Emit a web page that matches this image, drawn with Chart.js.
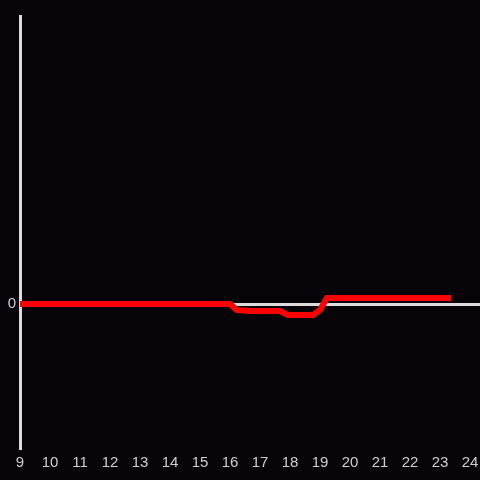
<!DOCTYPE html>
<html>
<head>
<meta charset="utf-8">
<script src="https://cdn.jsdelivr.net/npm/chart.js@4"></script>
<style>
  html, body { margin: 0; padding: 0; background: #060409; }
  #wrap { width: 480px; height: 480px; }
</style>
</head>
<body>
<div id="wrap"><canvas id="chart"></canvas></div>
<script>
// hours of the day and the plotted level
var hours  = [9, 16, 16.23, 16.67, 17.67, 17.93, 18.77, 19.0, 19.23, 23.37];
var values = [0, 0, -0.042, -0.049, -0.049, -0.076, -0.076, -0.042, 0.042, 0.042];
var xTicks = [9, 10, 11, 12, 13, 14, 15, 16, 17, 18, 19, 20, 21, 22, 23, 24];
var yTicks = [0];

var points = hours.map(function (h, i) { return { x: h, y: values[i] }; });

var ctx = document.getElementById('chart').getContext('2d');
new Chart(ctx, {
    type: 'line',
    data: {
        datasets: [{
            data: points,
            borderColor: '#ff0000',
            borderWidth: 6,
            pointRadius: 0,
            tension: 0,
            fill: false
        }]
    },
    options: {
        responsive: true,
        maintainAspectRatio: false,
        animation: false,
        layout: { padding: { top: 16, right: 0, left: 0, bottom: 0 } },
        plugins: { legend: { display: false }, tooltip: { enabled: false } },
        scales: {
            x: {
                type: 'linear',
                min: 9,
                max: 24.333,
                afterBuildTicks: function (s) {
                    s.ticks = xTicks.map(function (v) { return { value: v }; });
                },
                afterFit: function (s) {
                    s.height = 32;
                    s.paddingLeft = 0;
                    s.paddingRight = 0;
                },
                grid: { display: false, drawTicks: false },
                border: { display: false },
                ticks: {
                    color: '#cfcfcf',
                    padding: 6,
                    maxRotation: 0,
                    autoSkip: false,
                    font: { family: 'Liberation Sans', size: 15 }
                }
            },
            y: {
                min: -1,
                max: 2,
                afterBuildTicks: function (s) {
                    s.ticks = yTicks.map(function (v) { return { value: v }; });
                },
                afterFit: function (s) {
                    s.width = 20;
                    s.paddingTop = 0;
                    s.paddingBottom = 0;
                },
                grid: {
                    drawTicks: false,
                    lineWidth: 3,
                    color: function (c) { return c.tick && c.tick.value === 0 ? '#dcdcdc' : 'rgba(0,0,0,0)'; }
                },
                border: { display: true, color: '#dcdcdc', width: 3 },
                ticks: {
                    color: '#cfcfcf',
                    padding: 4,
                    font: { family: 'Liberation Sans', size: 15 }
                }
            }
        }
    }
});
</script>
</body>
</html>
